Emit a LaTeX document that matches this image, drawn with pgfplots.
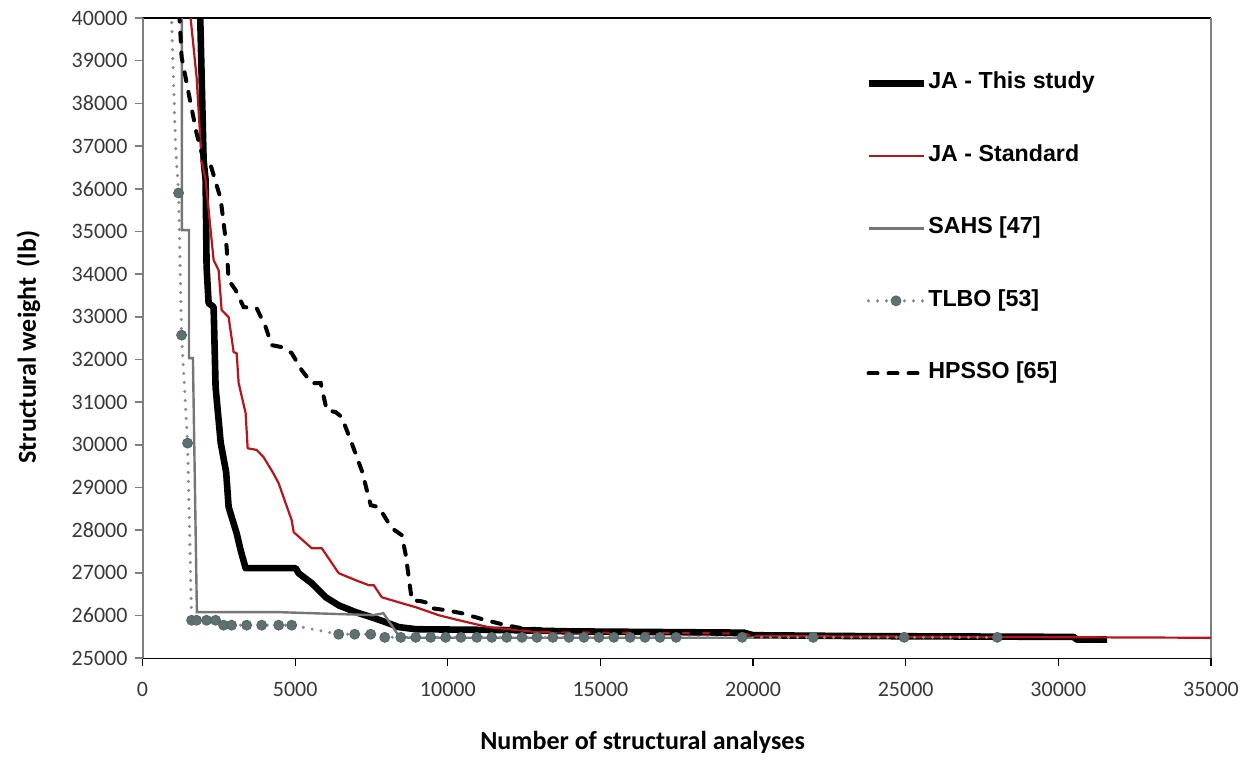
\documentclass[border=0pt]{standalone}
\usepackage{fontspec}
\setmainfont{Carlito}
\newfontfamily\legfont{Liberation Sans}
\usepackage{pgfplots}
\pgfplotsset{compat=1.18}

\definecolor{jared}{RGB}{185,20,25}
\definecolor{sahsgray}{RGB}{118,118,118}
\definecolor{tlbodot}{RGB}{138,138,138}
\definecolor{tlbomark}{RGB}{96,110,118}
\definecolor{tlboedge}{RGB}{80,108,88}
\definecolor{boxgray}{RGB}{128,128,128}

\begin{document}
\begin{tikzpicture}
\useasboundingbox (-71.25pt,-51pt) rectangle (556pt,329pt);
\begin{axis}[
    at={(0,0)}, anchor=south west,
    scale only axis, width=534pt, height=320pt,
    xmin=0, xmax=35000, ymin=25000, ymax=40000,
    xtick={0,5000,...,35000}, ytick={25000,26000,...,40000},
    scaled ticks=false,
    /pgf/number format/.cd, set thousands separator={}, assume math mode=true, /pgfplots/.cd,
    tick align=outside, major tick length=4pt,
    xtick pos=bottom, ytick pos=left,
    separate axis lines,
    x axis line style={black, line width=0.6pt},
    y axis line style={boxgray, line width=1pt},
    xtick style={black, line width=0.6pt},
    ytick style={boxgray, line width=0.8pt},
    ticklabel style={font=\fontsize{11}{13}\selectfont, text=black!78},
    xticklabel style={yshift=-4.5pt},
    xlabel={Number of structural analyses},
    ylabel={Structural weight\, (lb)},
    every axis x label/.style={at={(axis description cs:0.468,-0.1313)}, anchor=center,
        font=\fontsize{13}{15}\selectfont\bfseries},
    every axis y label/.style={at={(axis description cs:-0.1067,0.486)}, rotate=90, anchor=center,
        font=\fontsize{13}{15}\selectfont\bfseries},
    legend style={at={(axis description cs:0.676,0.919)}, anchor=north west, draw=none, fill=none,
        inner sep=0pt, row sep=23.25pt,
        nodes={inner sep=0.75pt, text height=8.5pt, text depth=3pt},
        font=\fontsize{11.6}{14}\selectfont\legfont\bfseries},
    legend cell align=left,
    legend image code/.code={\draw[#1] (0pt,0pt) -- (27.5pt,0pt);},
]
% JA - This study
\addplot[black, line width=3.3pt, line join=round] coordinates {
 (1850,42000)(1890,40000)(2000,36670)(2066,36200)(2098,34160)(2164,33320)(2328,33230)
 (2393,31350)(2560,30050)(2740,29350)(2820,28540)(3082,27930)(3213,27530)(3377,27110)
 (5016,27110)(5115,26990)(5541,26760)(6000,26430)(6426,26240)(6984,26080)(7508,25960)
 (7967,25845)(8393,25730)(8950,25680)(12000,25660)(14000,25630)(19700,25600)(20000,25540)
 (23400,25520)(30500,25500)(30600,25440)(31600,25440)};
\addlegendentry{JA - This study}
% JA - Standard
\addplot[jared, line width=1.1pt, line join=round] coordinates {
 (1500,42000)(1574,40000)(1770,38620)(1934,36670)(2066,36200)(2230,35030)(2328,34330)
 (2492,34090)(2590,33160)(2820,32990)(2984,32170)(3082,32150)(3148,31450)(3377,30740)
 (3443,29920)(3738,29880)(3967,29710)(4280,29340)(4459,29100)(4689,28630)(4885,28235)
 (4951,27954)(5541,27579)(5869,27579)(6426,26993)(6984,26829)(7410,26712)(7574,26712)
 (7836,26430)(8492,26290)(8951,26196)(9705,26008)(10361,25891)(11344,25727)(12984,25610)
 (19700,25580)(20000,25520)(35000,25480)};
\addlegendentry{JA - Standard}
% SAHS [47]
\addplot[sahsgray, line width=1.2pt] coordinates {
 (1290,42000)(1290,35030)(1520,35030)(1520,32030)(1650,32030)(1780,26080)(4470,26080)
 (7560,26010)(7890,26055)(8380,25540)(8700,25480)(20000,25480)};
\addlegendentry{SAHS [47]}
% TLBO [53] line
\addplot[tlbodot, line width=1.7pt, line cap=round, dash pattern=on 0pt off 4.5pt, forget plot] coordinates {
 (863,42000)(950,40000)(1082,36980)(1180,35900)(1279,32570)(1475,30040)(1607,25890)
 (2393,25890)(2656,25775)(4885,25775)(6426,25563)(7475,25563)(7934,25490)(28000,25490)};
% TLBO [53] marks
\addplot[only marks, mark=*, mark size=2.5pt, mark options={fill=tlbomark, draw=tlboedge, line width=0.4pt},
    legend image code/.code={
        \draw[tlbodot, line width=1.7pt, line cap=round, dash pattern=on 0pt off 4.5pt] (0pt,0pt) -- (27.5pt,0pt);
        \filldraw[fill=tlbomark, draw=tlboedge, line width=0.4pt] (13.75pt,0pt) circle (2.5pt);}]
 coordinates {
 (1180,35900)(1279,32570)(1475,30040)(1607,25890)(1770,25890)(2098,25890)(2393,25890)
 (2656,25775)(2918,25775)(3410,25775)(3902,25775)(4459,25775)(4885,25775)
 (6426,25563)(6951,25563)(7475,25563)(7934,25490)(8459,25490)(8950,25490)(9440,25490)
 (9930,25490)(10430,25490)(10950,25490)(11440,25490)(11930,25490)(12430,25490)(12920,25490)
 (13440,25490)(13970,25490)(14460,25490)(14950,25490)(15440,25490)(15970,25490)(16460,25490)
 (16950,25490)(17480,25490)(19640,25490)(21970,25490)(24950,25490)(28000,25490)};
\addlegendentry{TLBO [53]}
% HPSSO [65]
\addplot[black, line width=2pt, line cap=round, dash pattern=on 4.5pt off 5.5pt] coordinates {
 (1100,42000)(1213,40000)(1279,39090)(1508,38240)(1770,37300)(2000,36670)(2230,36555)
 (2557,35770)(2754,34630)(2820,33860)(3049,33625)(3311,33227)(3738,33204)(4033,32758)
 (4230,32336)(4557,32290)(4885,32149)(5213,31750)(5541,31446)(5836,31446)(6033,30813)
 (6328,30767)(6525,30650)(6852,30040)(7180,29400)(7475,28587)(7738,28540)(8164,28048)
 (8492,27884)(8623,27415)(8820,26360)(9115,26337)(9377,26290)(9475,26173)(9934,26126)
 (10459,26055)(11246,25891)(11902,25775)(12426,25704)(14000,25640)(20000,25560)};
\addlegendentry{HPSSO [65]}
\end{axis}
\end{tikzpicture}
\end{document}
